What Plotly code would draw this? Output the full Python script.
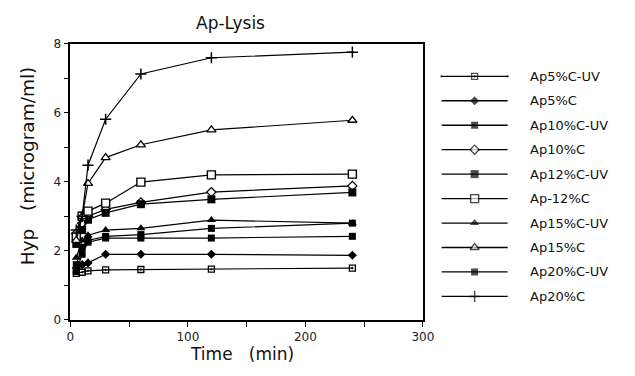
import plotly.graph_objects as go

# ---- data ----
times = [5, 10, 15, 30, 60, 120, 240]
series_names = ["Ap5%C-UV", "Ap5%C", "Ap10%C-UV", "Ap10%C", "Ap12%C-UV",
                "Ap-12%C", "Ap15%C-UV", "Ap15%C", "Ap20%C-UV", "Ap20%C"]
ap5_uv = [1.35, 1.38, 1.42, 1.45, 1.46, 1.47, 1.50]
ap5 = [1.50, 1.60, 1.65, 1.90, 1.90, 1.90, 1.87]
ap10_uv = [1.60, 2.10, 2.30, 2.42, 2.47, 2.65, 2.80]
ap10 = [2.50, 2.80, 3.00, 3.20, 3.40, 3.70, 3.88]
ap12_uv = [2.20, 2.60, 2.90, 3.10, 3.35, 3.49, 3.69]
ap_12 = [2.40, 3.00, 3.15, 3.38, 3.99, 4.20, 4.22]
ap15_uv = [1.80, 2.30, 2.45, 2.60, 2.65, 2.89, 2.80]
ap15 = [2.30, 3.00, 3.95, 4.70, 5.07, 5.50, 5.78]
ap20_uv = [1.40, 1.90, 2.25, 2.37, 2.37, 2.37, 2.42]
ap20 = [2.60, 3.00, 4.48, 5.81, 7.12, 7.59, 7.75]
series_values = [ap5_uv, ap5, ap10_uv, ap10, ap12_uv, ap_12, ap15_uv, ap15, ap20_uv, ap20]

x_tickvals = [0, 50, 100, 150, 200, 250, 300]
x_ticktext = ["0", "", "100", "", "200", "", "300"]
y_tickvals = [0, 1, 2, 3, 4, 5, 6, 7, 8]
y_ticktext = ["0", "", "2", "", "4", "", "6", "", "8"]

# ---- styles ----
W, H = 635, 376
styles = [
    dict(symbol="square-open-dot", size=6, color="black", lw=1.3),
    dict(symbol="diamond", size=7, color="black", lw=0),
    dict(symbol="square", size=7, color="black", lw=0),
    dict(symbol="diamond", size=7, color="white", lw=1.3),
    dict(symbol="square", size=8, color="black", lw=0),
    dict(symbol="square", size=8, color="white", lw=1.4),
    dict(symbol="triangle-up", size=8, color="black", lw=0),
    dict(symbol="triangle-up", size=8, color="white", lw=1.3),
    dict(symbol="square", size=7, color="black", lw=0),
    dict(symbol="cross-thin-open", size=8, color="black", lw=1.5),
]

fig = go.Figure()
for name, vals, st in zip(series_names, series_values, styles):
    fig.add_trace(go.Scatter(
        x=times, y=vals, mode="lines+markers", name=name, showlegend=False,
        line=dict(color="black", width=1.2),
        marker=dict(symbol=st["symbol"], size=st["size"], color=st["color"],
                    line=dict(color="black", width=st["lw"])),
        xaxis="x", yaxis="y", cliponaxis=False,
    ))

# manual legend on its own small axes
legend_rows = list(range(len(series_names)))
for i, (name, st) in enumerate(zip(series_names, styles)):
    fig.add_trace(go.Scatter(
        x=[0, 0.5, 1], y=[legend_rows[i]] * 3, mode="lines+markers", showlegend=False,
        line=dict(color="black", width=1.3),
        marker=dict(symbol=st["symbol"], size=[0, st["size"], 0], color=st["color"],
                    line=dict(color="black", width=st["lw"])),
        xaxis="x2", yaxis="y2", cliponaxis=False, hoverinfo="skip",
    ))

annotations = []
for i, name in enumerate(series_names):
    annotations.append(dict(
        x=537 / W, xref="paper", y=legend_rows[i], yref="y2", text=name,
        showarrow=False, xanchor="left", yanchor="middle",
        font=dict(family="DejaVu Sans", size=13, color="#111"),
    ))
annotations.append(dict(
    x=244 / W, y=1 - 360 / H, xref="paper", yref="paper", text="Time&nbsp;&nbsp;&nbsp;(min)",
    showarrow=False, xanchor="center", yanchor="middle",
    font=dict(family="DejaVu Sans", size=17, color="#111"),
))
annotations.append(dict(
    x=24 / W, y=1 - 165 / H, xref="paper", yref="paper", text="Hyp&nbsp;&nbsp;&nbsp;(microgram/ml)",
    showarrow=False, xanchor="center", yanchor="middle", textangle=-90,
    font=dict(family="DejaVu Sans", size=18.5, color="#111"),
))
annotations.append(dict(
    x=232 / W, y=1 - 17 / H, xref="paper", yref="paper", text="Ap-Lysis",
    showarrow=False, xanchor="center", yanchor="middle",
    font=dict(family="DejaVu Sans", size=17, color="#111"),
))

axis_common = dict(showgrid=False, zeroline=False, showline=True, linecolor="black",
                   linewidth=1.5, mirror=True, ticks="outside", ticklen=5,
                   tickcolor="black", tickwidth=1.2,
                   tickfont=dict(family="DejaVu Sans", size=12, color="#222"))

fig.update_layout(
    width=W, height=H,
    margin=dict(l=0, r=0, t=0, b=0),
    paper_bgcolor="white", plot_bgcolor="white",
    showlegend=False,
    xaxis=dict(domain=[68 / W, 429 / W], range=[0, 300], tickmode="array",
               tickvals=x_tickvals, ticktext=x_ticktext, anchor="y", **axis_common),
    yaxis=dict(domain=[1 - 325 / H, 1 - 38 / H], range=[0, 8], tickmode="array",
               tickvals=y_tickvals, ticktext=y_ticktext, anchor="x", **axis_common),
    xaxis2=dict(domain=[448 / W, 516 / W], range=[0, 1], visible=False, anchor="y2"),
    yaxis2=dict(domain=[1 - 313.3 / H, 1 - 59.3 / H], range=[9.5, -0.5], visible=False,
                anchor="x2"),
    annotations=annotations,
)

fig.write_html("out.html")
